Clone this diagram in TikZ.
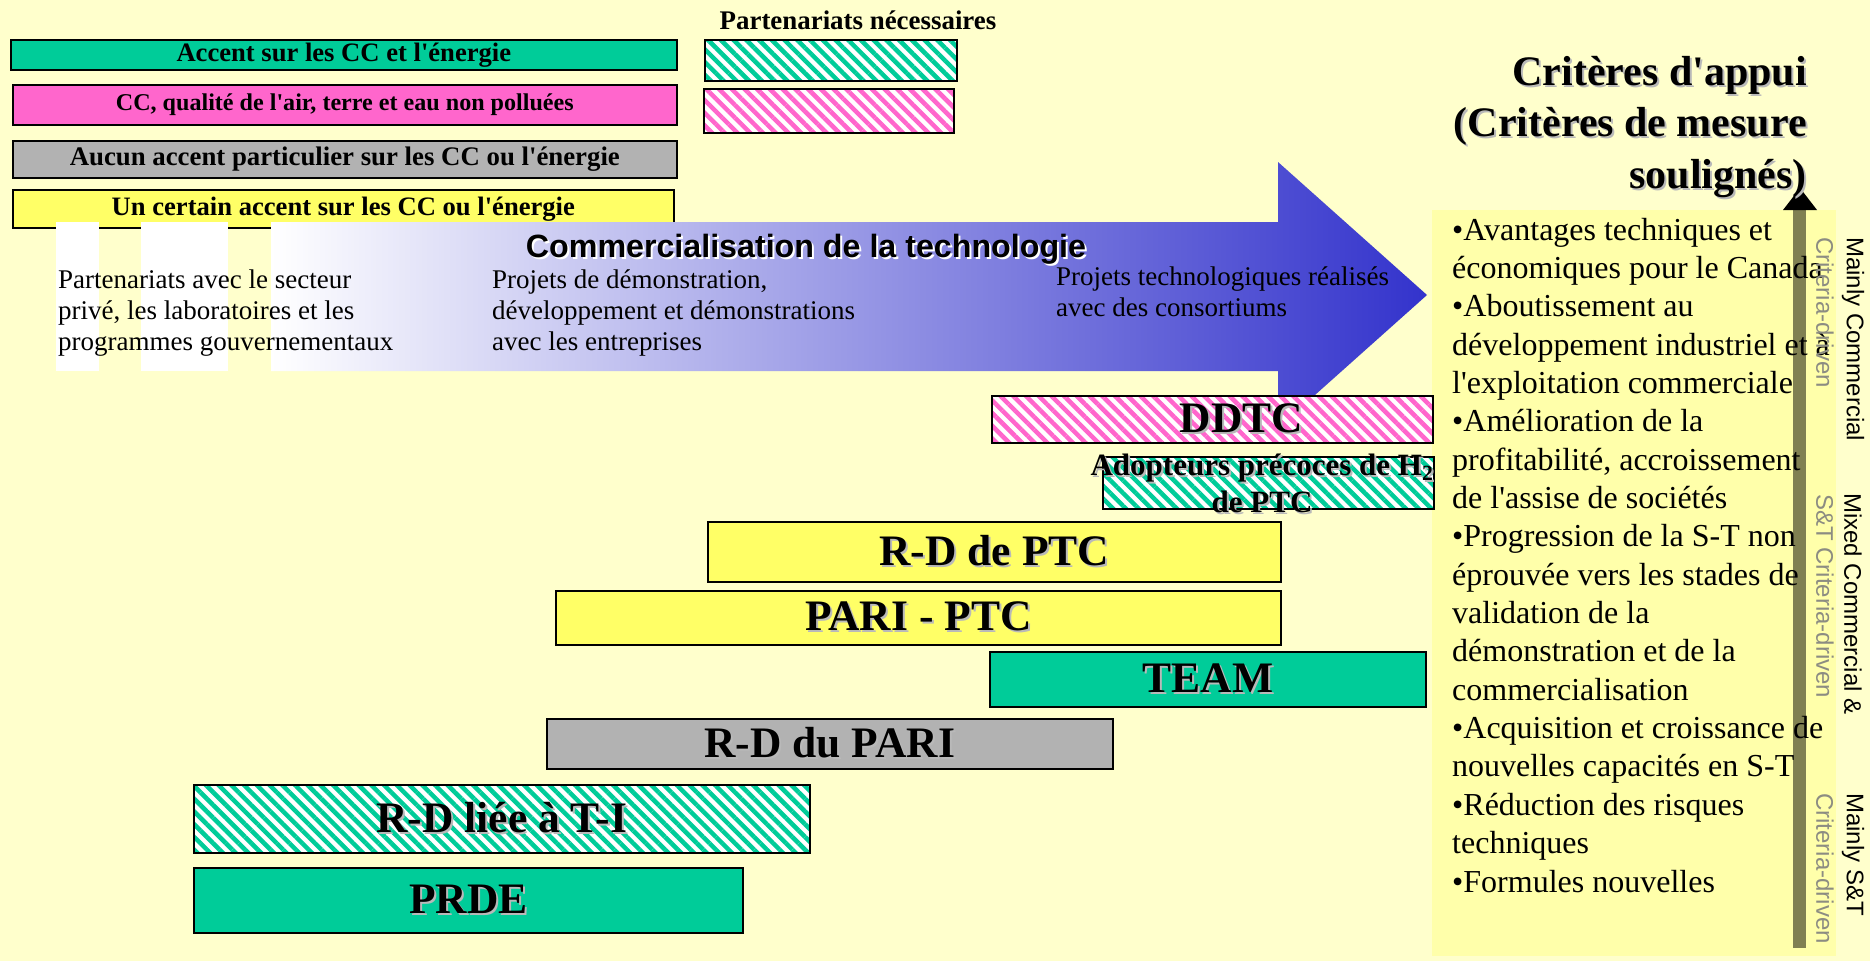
\documentclass[tikz,border=0pt]{standalone}
\usepackage{fontspec}
\defaultfontfeatures[\rmfamily,\sffamily]{}
\setmainfont{Liberation Serif}
\setsansfont{Liberation Sans}
\usetikzlibrary{patterns.meta}

\definecolor{bgyellow}{HTML}{FFFFCC}
\definecolor{panelyellow}{HTML}{FFFFAA}
\definecolor{ccgreen}{HTML}{00CC99}
\definecolor{ccpink}{HTML}{FF66CC}
\definecolor{ccgray}{HTML}{B2B2B2}
\definecolor{ccyellow}{HTML}{FFFF66}
\definecolor{arrowblue}{HTML}{3333CC}
\definecolor{axisolive}{RGB}{128,128,82}
\definecolor{sidegray}{RGB}{140,140,130}

\newcommand{\shadowed}[2][gray!55]{\makebox[0pt][l]{\hspace{2pt}\raisebox{-2pt}{\textcolor{#1}{#2}}}#2}
\newcommand{\legfont}[1]{\fontsize{#1}{30}\selectfont\bfseries}

\tikzset{
  legbox/.style={draw=black, line width=1.6pt, anchor=north west, inner sep=0pt},
  bar/.style={draw=black, line width=1.6pt, anchor=north west, inner sep=0pt,
    font=\fontsize{43.5}{50}\selectfont\bfseries},
  hatched/.style={preaction={fill=white},
    pattern={Lines[angle=-45,distance=9pt,line width=4.5pt]}, pattern color=#1},
  stagetext/.style={anchor=base west, inner sep=0pt, align=left,
    font=\fontsize{27}{31}\selectfont},
  sidetext/.style={rotate=-90, anchor=west, inner sep=0pt,
    font=\sffamily\fontsize{24}{28}\selectfont},
}

\begin{document}
\begin{tikzpicture}[x=1pt,y=-1pt]
\useasboundingbox (0,0) rectangle (1870,961);
\fill[bgyellow] (0,0) rectangle (1870,961);

\node[anchor=base, inner sep=0pt, font=\legfont{26.9}] (partners) at (858,29) {Partenariats nécessaires};
\node[legbox, fill=ccgreen, minimum width=666pt, minimum height=30pt, font=\legfont{26.6}] (leggreen) at (10,39) {Accent sur les CC et l'énergie};
\node[legbox, fill=ccpink, minimum width=664pt, minimum height=40pt, font=\legfont{24.1}] (legpink) at (12,84) {CC, qualité de l'air, terre et eau non polluées};
\node[legbox, fill=ccgray, minimum width=664pt, minimum height=37pt, font=\legfont{26.8}] (leggray) at (12,140) {Aucun accent particulier sur les CC ou l'énergie};
\node[legbox, fill=ccyellow, minimum width=661pt, minimum height=38pt, font=\legfont{26.6}] (legyellow) at (12,189) {Un certain accent sur les CC ou l'énergie};
\node[legbox, hatched=ccgreen, minimum width=252pt, minimum height=41pt] (hatchgreen) at (703,38) {};
\node[legbox, hatched=ccpink, minimum width=250pt, minimum height=44pt] (hatchpink) at (703,88) {};

\fill[white] (56,222) rectangle (99,371);
\fill[white] (141,222) rectangle (228,371);
\shade[left color=white, right color=arrowblue] (271,222) -- (1278,222) -- (1278,162) -- (1427,295)
  -- (1278,428) -- (1278,371) -- (271,371) -- cycle;
\node[anchor=base, inner sep=0pt, font=\sffamily\bfseries\fontsize{32.2}{36}\selectfont] (commtitle) at (806,257) {\shadowed[white]{Commercialisation de la technologie}};
\node[stagetext] (stageone) at (58,350) {Partenariats avec le secteur\\privé, les laboratoires et les\\programmes gouvernementaux};
\node[stagetext] (stagetwo) at (492,350) {Projets de démonstration,\\développement et démonstrations\\avec les entreprises};
\node[stagetext] (stagethree) at (1056,316) {Projets technologiques réalisés\\avec des consortiums};

\fill[panelyellow] (1432,210) rectangle (1836,956);
\fill[axisolive] (1793,948) rectangle (1806,210);
\fill[black] (1783,210) -- (1817,210) -- (1800,188) -- cycle;
\node[anchor=base east, inner sep=0pt, align=right, font=\bfseries\fontsize{42}{51.5}\selectfont] (crittitle) at (1807,188)
  {\shadowed{Critères d'appui}\\\shadowed{(Critères de mesure}\\\shadowed{soulignés)}};
\node[anchor=base west, inner sep=0pt, align=left, font=\fontsize{32}{38.35}\selectfont] (critlist) at (1452,892)
  {\textbullet Avantages techniques et\\économiques pour le Canada\\\textbullet Aboutissement au\\développement industriel et à\\l'exploitation commerciale\\\textbullet Amélioration de la\\profitabilité, accroissement\\de l'assise de sociétés\\\textbullet Progression de la S-T non\\éprouvée vers les stades de\\validation de la\\démonstration et de la\\commercialisation\\\textbullet Acquisition et croissance de\\nouvelles capacités en S-T\\\textbullet Réduction des risques\\techniques\\\textbullet Formules nouvelles};
\node[sidetext] (sidecom) at (1853,237) {Mainly Commercial};
\node[sidetext] (sidemix) at (1853,493) {Mixed Commercial \&};
\node[sidetext] (sidest) at (1853,793) {Mainly S\&T};
\node[sidetext, sidegray] (subcom) at (1825,237) {Criteria-driven};
\node[sidetext, sidegray] (submix) at (1825,494) {S\&T Criteria-driven};
\node[sidetext, sidegray] (subst) at (1825,793) {Criteria-driven};

\node[bar, hatched=ccpink, minimum width=441pt, minimum height=47pt] (ddtc) at (991,395) {};
\node[font=\fontsize{43.5}{50}\selectfont\bfseries, inner sep=0pt] (ddtclabel) at ([xshift=29pt]ddtc.center) {\shadowed{DDTC}};
\node[bar, hatched=ccgreen, minimum width=331pt, minimum height=52pt] (adopt) at (1102,456) {};
\node[anchor=base, inner sep=0pt, align=center, font=\bfseries\fontsize{31}{37}\selectfont] (adoptlabel) at (1262,512)
  {\shadowed{Adopteurs précoces de H\textsubscript{2}}\\\shadowed{de PTC}};
\node[bar, fill=ccyellow, minimum width=573pt, minimum height=60pt] (rdptc) at (707,521) {\shadowed{R-D de PTC}};
\node[bar, fill=ccyellow, minimum width=725pt, minimum height=54pt] (pariptc) at (555,590) {\shadowed{PARI - PTC}};
\node[bar, fill=ccgreen, minimum width=436pt, minimum height=55pt] (team) at (989,651) {\shadowed{TEAM}};
\node[bar, fill=ccgray, minimum width=566pt, minimum height=50pt] (rdpari) at (546,718) {\shadowed{R-D du PARI}};
\node[bar, hatched=ccgreen, minimum width=616pt, minimum height=68pt] (rdti) at (193,784) {\shadowed{R-D liée à T-I}};
\node[bar, fill=ccgreen, minimum width=549pt, minimum height=65pt] (prde) at (193,867) {\shadowed{PRDE}};
\end{tikzpicture}
\end{document}
